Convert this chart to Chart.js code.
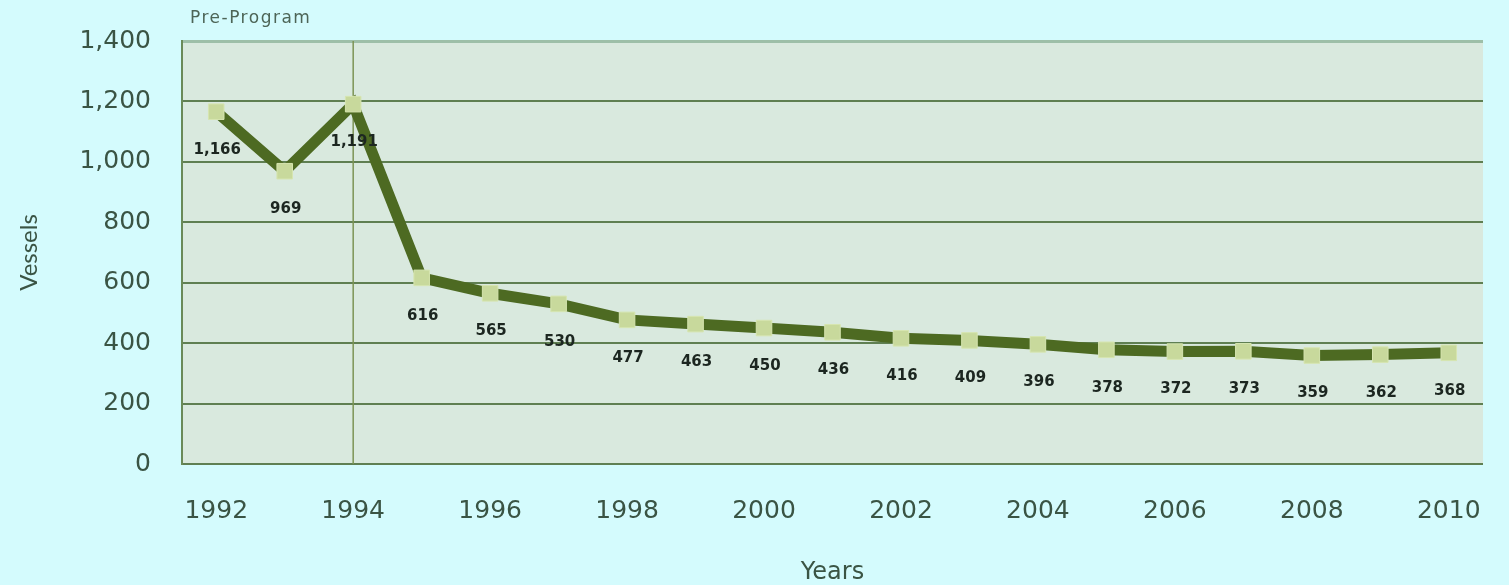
<!DOCTYPE html>
<html>
<head>
<meta charset="utf-8">
<script src="https://cdn.jsdelivr.net/npm/chart.js@4"></script>
<style>
    html, body { margin: 0; padding: 0; background: #d4fbfd; }
    #wrap { width: 1509px; height: 585px; }
</style>
</head>
<body>
<div id="wrap"><canvas id="chart-vessels"></canvas></div>
<script>
// datos
const years = [1992, 1993, 1994, 1995, 1996, 1997, 1998, 1999, 2000, 2001, 2002, 2003, 2004, 2005, 2006, 2007, 2008, 2009, 2010];
const vessels = [1166, 969, 1191, 616, 565, 530, 477, 463, 450, 436, 416, 409, 396, 378, 372, 373, 359, 362, 368];
const yTicks = [0, 200, 400, 600, 800, 1000, 1200, 1400];
const programStart = 1994;

const puntos = years.map((y, i) => ({ x: y, y: vessels[i] }));

const colorTexto = "#3a5444";

// fondo del area de grafica
const fondoArea = {
    id: "fondoArea",
    beforeDraw(chart) {
        const { ctx, chartArea: a } = chart;
        ctx.save();
        ctx.fillStyle = "#d9e9de";
        ctx.fillRect(a.left, a.top, a.right - a.left, a.bottom - a.top);
        ctx.restore();
    }
};

// linea vertical de inicio del programa + texto
const lineaPrograma = {
    id: "lineaPrograma",
    beforeDatasetsDraw(chart) {
        const { ctx, chartArea: a, scales } = chart;
        const x = scales.x.getPixelForValue(programStart);
        ctx.save();
        ctx.strokeStyle = "#7d9455";
        ctx.lineWidth = 1.5;
        ctx.beginPath();
        ctx.moveTo(x, a.top);
        ctx.lineTo(x, a.bottom);
        ctx.stroke();
        ctx.fillStyle = "#4d6557";
        ctx.font = "17px 'DejaVu Sans'";
        ctx.letterSpacing = "1.5px";
        ctx.textAlign = "left";
        ctx.textBaseline = "middle";
        ctx.fillText("Pre-Program", a.left + 8, 19);
        ctx.restore();
    }
};

// etiquetas de valores debajo de cada punto
const etiquetas = {
    id: "etiquetas",
    afterDatasetsDraw(chart) {
        const { ctx } = chart;
        const meta = chart.getDatasetMeta(0);
        ctx.save();
        ctx.fillStyle = "#1c2620";
        ctx.font = "bold 15px 'DejaVu Sans'";
        ctx.textAlign = "center";
        ctx.textBaseline = "middle";
        meta.data.forEach((p, i) => {
            ctx.fillText(vessels[i].toLocaleString("en-US"), p.x + 1, p.y + 38);
        });
        ctx.restore();
    }
};

const ctx = document.getElementById("chart-vessels").getContext("2d");

new Chart(ctx, {
    type: "line",
    data: {
        datasets: [{
            label: "Vessels",
            data: puntos,
            borderColor: "#4d6a22",
            borderWidth: 11,
            tension: 0,
            pointStyle: "rect",
            pointRadius: 11,
            pointBackgroundColor: "#c8d99c",
            pointBorderColor: "#d6e5b0",
            pointBorderWidth: 1
        }]
    },
    options: {
        responsive: true,
        maintainAspectRatio: false,
        animation: false,
        layout: { padding: { top: 41, right: 26, left: 0, bottom: 0 } },
        plugins: {
            legend: { display: false },
            tooltip: { enabled: false }
        },
        scales: {
            x: {
                type: "linear",
                min: 1991.5,
                max: 2010.5,
                afterBuildTicks: (s) => {
                    s.ticks = years.filter(y => y % 2 === 0).map(v => ({ value: v }));
                },
                grid: { display: false },
                border: { display: false },
                ticks: {
                    color: colorTexto,
                    font: { family: "DejaVu Sans", size: 25 },
                    padding: 24,
                    maxRotation: 0,
                    callback: (v) => String(v)
                },
                title: {
                    display: true,
                    text: "Years",
                    color: colorTexto,
                    font: { family: "DejaVu Sans", size: 24, lineHeight: 1 },
                    padding: { top: 0, bottom: 0 }
                },
                afterFit: (s) => { s.height = 121; s.paddingLeft = 0; s.paddingRight = 0; }
            },
            y: {
                min: 0,
                max: 1400,
                afterBuildTicks: (s) => {
                    s.ticks = yTicks.map(v => ({ value: v }));
                },
                grid: {
                    color: (c) => c.tick && c.tick.value === 1400 ? "#9dbfa8" : "#5f7f52",
                    lineWidth: (c) => c.tick && c.tick.value === 1400 ? 3 : 2,
                    drawTicks: false
                },
                border: { display: true, color: "#6a8a58", width: 2 },
                ticks: {
                    color: colorTexto,
                    font: { family: "DejaVu Sans", size: 25 },
                    padding: 31,
                    callback: (v) => v.toLocaleString("en-US")
                },
                title: {
                    display: true,
                    text: "Vessels",
                    color: colorTexto,
                    font: { family: "Lato", size: 24 },
                    padding: { top: 15, bottom: 0 }
                },
                afterFit: (s) => { s.width = 182; s.paddingTop = 0; s.paddingBottom = 0; }
            }
        }
    },
    plugins: [fondoArea, lineaPrograma, etiquetas]
});
</script>
</body>
</html>
